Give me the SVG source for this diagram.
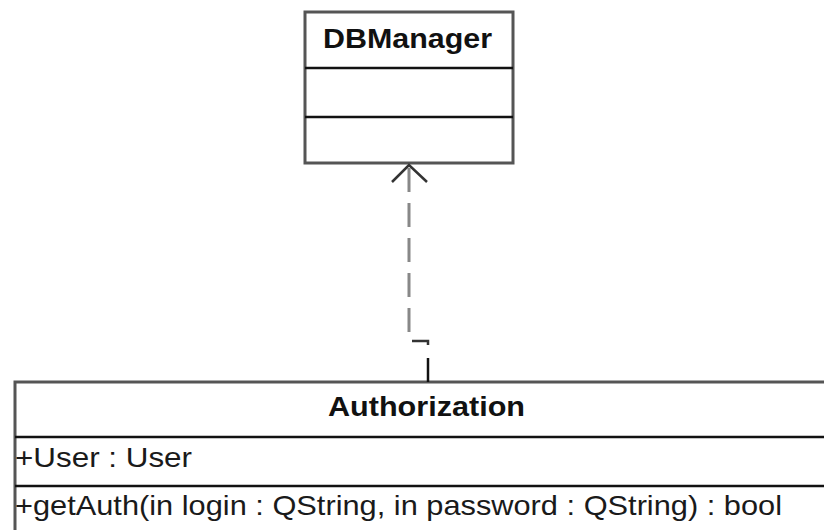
<svg xmlns="http://www.w3.org/2000/svg" width="824" height="530" viewBox="0 0 824 530">
<style>
.box{fill:#fff;stroke:#555;stroke-width:3}
.div{stroke:#111;stroke-width:2.5}
.t{font-family:"Liberation Sans",Arial,sans-serif;font-size:28px;fill:#1a1a1a}
.b{font-weight:bold;fill:#111}
</style>
<rect width="824" height="530" fill="#fff"/>
<g id="DBManager">
<rect class="box" x="305" y="12" width="208" height="151"/>
<line class="div" x1="305" y1="68" x2="513" y2="68"/>
<line class="div" x1="305" y1="117" x2="513" y2="117"/>
<text class="t b" x="323" y="48" textLength="169" lengthAdjust="spacingAndGlyphs">DBManager</text>
</g>
<g id="Authorization">
<rect class="box" x="15" y="382" width="830" height="170"/>
<line class="div" x1="15" y1="437" x2="824" y2="437"/>
<line class="div" x1="15" y1="486" x2="824" y2="486"/>
<text class="t b" x="328" y="416" textLength="197" lengthAdjust="spacingAndGlyphs">Authorization</text>
<text class="t" x="15" y="467" textLength="177" lengthAdjust="spacingAndGlyphs">+User : User</text>
<text class="t" x="15" y="515" textLength="767" lengthAdjust="spacingAndGlyphs">+getAuth(in login : QString, in password : QString) : bool</text>
</g>
<g id="connectors">
<line x1="409" y1="168" x2="409" y2="332" stroke="#888" stroke-width="3" stroke-dasharray="24 11"/>
<polyline points="392,182 409,165 427,182" fill="none" stroke="#333" stroke-width="2.5"/>
<polyline points="412,341 428,341 428,345" fill="none" stroke="#333" stroke-width="2.5"/>
<line x1="428" y1="358" x2="428" y2="382" stroke="#111" stroke-width="2.5"/>
</g>
</svg>
